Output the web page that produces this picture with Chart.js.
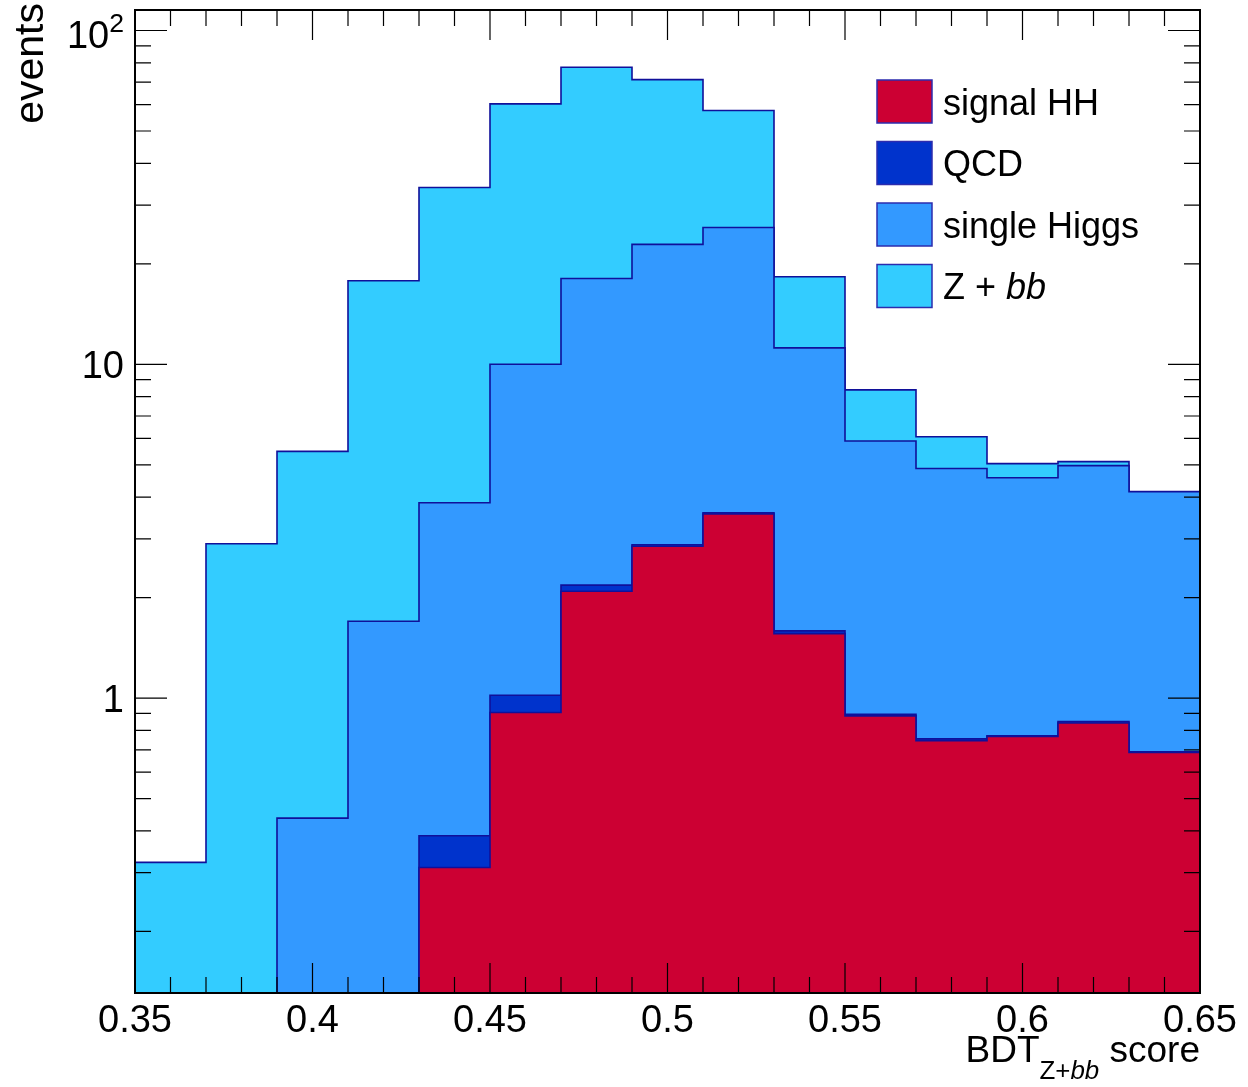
<!DOCTYPE html>
<html>
<head>
<meta charset="utf-8">
<title>BDT Z+bb score</title>
<script src="https://cdn.jsdelivr.net/npm/chart.js@4.4.1/dist/chart.umd.min.js"></script>
<style>
  html, body { margin: 0; padding: 0; background: #ffffff; }
  canvas { display: block; }
</style>
</head>
<body>
<canvas id="c" width="1248" height="1087"></canvas>
<script>
// Histogram binning (15 bins of width 0.02)
const binEdges = [0.35, 0.37, 0.39, 0.41, 0.43, 0.45, 0.47, 0.49, 0.51, 0.53, 0.55, 0.57, 0.59, 0.61, 0.63, 0.65];

// Expected events per bin for each process (stacked bottom to top)
const signalHH    = [0, 0, 0, 0, 0.311, 0.906, 2.09, 2.85, 3.56, 1.56, 0.885, 0.745, 0.768, 0.842, 0.688];
const qcd         = [0, 0, 0, 0, 0.076, 0.114, 0.09, 0.03, 0.03, 0.03, 0.009, 0.010, 0.003, 0.009, 0.002];
const singleHiggs = [0, 0, 0.437, 1.70, 3.46, 8.98, 15.9, 20.0, 22.1, 9.61, 5.00, 4.12, 3.80, 4.12, 3.46];
const zbb         = [0.322, 2.90, 5.05, 16.1, 30.0, 50.3, 59.5, 48.4, 31.9, 7.10, 2.49, 1.19, 0.47, 0.14, 0.01];

const processLabels = ['signal HH', 'QCD', 'single Higgs', 'Z + #it{bb}'];
const processColors = ['#cc0033', '#0033cc', '#3399ff', '#33ccff'];

// Axis ticks and titles
const xMajorTicks = [0.35, 0.4, 0.45, 0.5, 0.55, 0.6, 0.65];
const xTickLabels = ['0.35', '0.4', '0.45', '0.5', '0.55', '0.6', '0.65'];
const yMajorTicks = [1, 10, 100];
const yTickLabels = ['1', '10', '10^{2}'];
const xTitle = 'BDT_{Z+#it{bb}} score';
const yTitle = 'events';

const X_MIN = 0.35, X_MAX = 0.65;
const Y_MIN = 0.1308, Y_MAX = 115.2;

const FONT = "'Liberation Sans', Arial, Helvetica, sans-serif";
const OUTLINE = '#10109a';

// ---- stacking (THStack style: each layer is the running sum) ----
const processes = [signalHH, qcd, singleHiggs, zbb];
const stacked = [];
processes.forEach((vals, k) => {
  stacked.push(vals.map((v, i) => v + (k > 0 ? stacked[k - 1][i] : 0)));
});

function stepPoints(cum) {
  // one point per bin edge (left edge carries the bin content);
  // the closing edge repeats the last bin content
  return binEdges.map((x, i) => {
    const v = cum[Math.min(i, cum.length - 1)];
    return { x: x, y: v > Y_MIN ? v : Y_MIN };
  });
}

const datasets = processes.map((_, k) => ({
  label: processLabels[k],
  data: stepPoints(stacked[k]),
  stepped: 'before',
  borderColor: OUTLINE,
  borderWidth: 1.6,
  backgroundColor: processColors[k],
  fill: 'start',
  pointRadius: 0,
  pointHoverRadius: 0,
  tension: 0
}));

// ---- tiny TLatex-like text renderer: #it{..}, _{..}, ^{..} ----
function groupEnd(s, open) {
  let depth = 0;
  for (let j = open; j < s.length; j++) {
    if (s[j] === '{') depth++;
    else if (s[j] === '}') { depth--; if (depth === 0) return j; }
  }
  return s.length - 1;
}
function latexRuns(s, style, out) {
  let buf = '';
  const flush = () => { if (buf) { out.push(Object.assign({ text: buf }, style)); buf = ''; } };
  let i = 0;
  while (i < s.length) {
    if (s.startsWith('#it{', i)) {
      flush();
      const e = groupEnd(s, i + 3);
      latexRuns(s.slice(i + 4, e), Object.assign({}, style, { italic: true }), out);
      i = e + 1;
    } else if ((s[i] === '_' || s[i] === '^') && s[i + 1] === '{') {
      flush();
      const e = groupEnd(s, i + 1);
      const sub = s[i] === '_';
      latexRuns(s.slice(i + 2, e), Object.assign({}, style, {
        size: style.size * 0.7,
        shift: style.shift + (sub ? 0.45 : -0.42) * style.size
      }), out);
      i = e + 1;
    } else {
      buf += s[i];
      i++;
    }
  }
  flush();
  return out;
}
function layoutLatex(ctx, src, size) {
  const runs = latexRuns(src, { italic: false, size: size, shift: 0 }, []);
  let width = 0, top = 0;
  runs.forEach(r => {
    r.font = (r.italic ? 'italic ' : '') + r.size.toFixed(2) + 'px ' + FONT;
    ctx.font = r.font;
    r.w = ctx.measureText(r.text).width;
    width += r.w;
    top = Math.min(top, r.shift - 0.716 * r.size);
  });
  return { runs, width, top };
}
function drawLatex(ctx, src, x, y, size, align) {
  const lay = layoutLatex(ctx, src, size);
  let cx = align === 'right' ? x - lay.width : align === 'center' ? x - lay.width / 2 : x;
  ctx.textAlign = 'left';
  ctx.textBaseline = 'alphabetic';
  lay.runs.forEach(r => {
    ctx.font = r.font;
    ctx.fillText(r.text, cx, y + r.shift);
    cx += r.w;
  });
  return lay;
}

// ---- ROOT-style frame: inward ticks on all four sides, labels, legend ----
const rootFrame = {
  id: 'rootFrame',
  afterDatasetsDraw(chart) {
    const ctx = chart.ctx;
    const { left, right, top, bottom } = chart.chartArea;
    const xs = chart.scales.x, ys = chart.scales.y;
    ctx.save();
    ctx.strokeStyle = '#000';
    ctx.lineWidth = 1.2;
    ctx.beginPath();
    // x ticks every 0.01, major every 0.05
    for (let k = 35; k <= 65; k++) {
      const px = xs.getPixelForValue(k / 100);
      const len = (k % 5 === 0) ? 30 : 16;
      ctx.moveTo(px, bottom); ctx.lineTo(px, bottom - len);
      ctx.moveTo(px, top); ctx.lineTo(px, top + len);
    }
    // y ticks: decades major, 2..9 minor
    const yTicks = [];
    [0.1, 1, 10, 100].forEach(d => {
      for (let m = 1; m <= 9; m++) {
        const v = m * d;
        if (v >= Y_MIN && v <= Y_MAX) yTicks.push({ v, major: m === 1 });
      }
    });
    yTicks.forEach(t => {
      const py = ys.getPixelForValue(t.v);
      const len = t.major ? 32 : 16;
      ctx.moveTo(left, py); ctx.lineTo(left + len, py);
      ctx.moveTo(right, py); ctx.lineTo(right - len, py);
    });
    ctx.stroke();
    ctx.lineWidth = 2;
    ctx.strokeRect(left, top, right - left, bottom - top);
    ctx.restore();
  },
  afterDraw(chart) {
    const ctx = chart.ctx;
    const { right, bottom } = chart.chartArea;
    const xs = chart.scales.x, ys = chart.scales.y;
    ctx.save();
    ctx.fillStyle = '#000';

    // x tick labels
    xMajorTicks.forEach((v, i) => {
      drawLatex(ctx, xTickLabels[i], xs.getPixelForValue(v), bottom + 39, 38, 'center');
    });
    // y tick labels, vertically centred on the tick
    yMajorTicks.forEach((v, i) => {
      const lay = layoutLatex(ctx, yTickLabels[i], 38);
      const py = ys.getPixelForValue(v);
      drawLatex(ctx, yTickLabels[i], 124, py - lay.top / 2, 38, 'right');
    });

    // axis titles
    drawLatex(ctx, xTitle, right, bottom + 69, 37, 'right');
    ctx.save();
    ctx.translate(43, 3);
    ctx.rotate(-Math.PI / 2);
    ctx.font = '41px ' + FONT;
    ctx.textAlign = 'right';
    ctx.textBaseline = 'alphabetic';
    ctx.fillText(yTitle, 0, 0);
    ctx.restore();

    // legend
    const boxX = 877, boxW = 55, boxH = 43, firstTop = 80, rowStep = 61.5;
    processLabels.forEach((lab, i) => {
      const by = firstTop + i * rowStep;
      ctx.fillStyle = processColors[i];
      ctx.fillRect(boxX, by, boxW, boxH);
      ctx.strokeStyle = '#2c2cae';
      ctx.lineWidth = 1.5;
      ctx.strokeRect(boxX, by, boxW, boxH);
      ctx.fillStyle = '#000';
      drawLatex(ctx, lab, 943, by + boxH / 2 + 13, 36, 'left');
    });
    ctx.restore();
  }
};

new Chart(document.getElementById('c'), {
  type: 'line',
  data: { datasets: datasets },
  options: {
    responsive: false,
    animation: false,
    devicePixelRatio: 1,
    layout: { padding: { left: 135, right: 48, top: 10, bottom: 94 } },
    plugins: {
      legend: { display: false },
      tooltip: { enabled: false },
      filler: { propagate: false }
    },
    scales: {
      x: { type: 'linear', min: X_MIN, max: X_MAX, display: false },
      y: { type: 'logarithmic', min: Y_MIN, max: Y_MAX, display: false }
    }
  },
  plugins: [rootFrame]
});
</script>
</body>
</html>
